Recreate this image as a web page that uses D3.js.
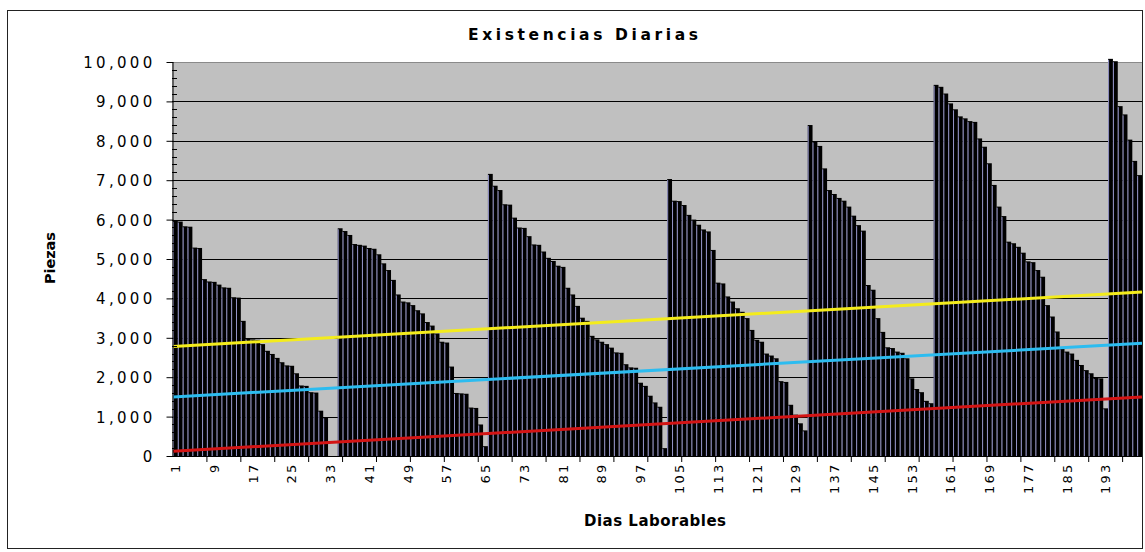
<!DOCTYPE html>
<html>
<head>
<meta charset="utf-8">
<script src="https://cdn.jsdelivr.net/npm/d3@7"></script>
<style>
  html, body { margin: 0; padding: 0; background: #ffffff; }
  svg { display: block; }
  text { font-family: "DejaVu Sans", Verdana, sans-serif; fill: #000; }
</style>
</head>
<body>
<svg id="chart" width="1145" height="552"></svg>
<script>
// Daily stock on hand (pieces), one array per replenishment cycle
const cycle1 = [5970, 5950, 5830, 5820, 5290, 5280, 4490, 4430, 4420, 4350, 4280, 4270,
                4030, 4020, 3430, 2980, 2960, 2950, 2840, 2670, 2590, 2490, 2380, 2300,
                2290, 2100, 1790, 1780, 1620, 1610, 1150, 980, 0, 0];
const cycle2 = [5780, 5710, 5610, 5380, 5360, 5340, 5280, 5260, 5120, 4890, 4720, 4470,
                4100, 3920, 3900, 3830, 3700, 3620, 3400, 3310, 3110, 2900, 2880, 2270,
                1600, 1590, 1580, 1230, 1220, 800, 250];
const cycle3 = [7160, 6860, 6750, 6390, 6380, 6050, 5800, 5790, 5580, 5370, 5360, 5190,
                5030, 4950, 4830, 4800, 4270, 4100, 3810, 3510, 3430, 3050, 2960, 2900,
                2840, 2750, 2630, 2620, 2330, 2250, 2240, 1860, 1780, 1530, 1360, 1250, 200];
const cycle4 = [7030, 6480, 6470, 6370, 6120, 6000, 5870, 5750, 5700, 5230, 4400, 4380,
                4050, 3920, 3750, 3660, 3500, 3200, 2950, 2900, 2600, 2550, 2480, 1900,
                1880, 1300, 1050, 830, 650];
const cycle5 = [8400, 7980, 7870, 7300, 6750, 6650, 6550, 6480, 6330, 6100, 5860, 5720,
                4340, 4220, 3500, 3150, 2760, 2740, 2650, 2620, 2480, 1970, 1700, 1620,
                1400, 1340];
const cycle6 = [9420, 9370, 9200, 8950, 8800, 8620, 8570, 8500, 8480, 8060, 7850, 7430,
                6880, 6330, 6090, 5440, 5400, 5310, 5160, 4940, 4920, 4720, 4550, 3830,
                3540, 3160, 2730, 2650, 2600, 2440, 2310, 2180, 2100, 1980, 1970, 1210];
const cycle7 = [10080, 10020, 8880, 8670, 8030, 7490, 7130];

// Straight trend lines: values at the first and last working day
const trendDays   = [1, 200];
const lowerTrend  = [120, 1500];   // red
const middleTrend = [1500, 2860];  // cyan
const upperTrend  = [2780, 4160];  // yellow

const yTickValues = [0, 1000, 2000, 3000, 4000, 5000, 6000, 7000, 8000, 9000, 10000];

const stock = [].concat(cycle1, cycle2, cycle3, cycle4, cycle5, cycle6, cycle7);
const days = d3.range(1, stock.length + 1);
const xLabelDays = days.filter(d => (d - 1) % 8 === 0);
const xTickDays = days.filter(d => (d - 1) % 7 === 0 && d > 1);

const svg = d3.select("#chart");
const plot = { left: 172, right: 1142, top: 62, bottom: 456 };

const x = d3.scaleBand().domain(days).range([plot.left + 1, plot.right]).paddingInner(0).paddingOuter(0);
const y = d3.scaleLinear().domain([0, 10000]).range([plot.bottom, plot.top]);
const bw = x.bandwidth();

// outer frame
svg.append("rect")
  .attr("x", 7.5).attr("y", 10.5).attr("width", 1135).attr("height", 538)
  .attr("fill", "#fff").attr("stroke", "#222").attr("stroke-width", 1);

// plot background
svg.append("rect")
  .attr("x", plot.left).attr("y", plot.top)
  .attr("width", plot.right - plot.left).attr("height", plot.bottom - plot.top)
  .attr("fill", "#c0c0c0");
svg.append("line")
  .attr("x1", plot.left).attr("x2", plot.right)
  .attr("y1", plot.top + 0.5).attr("y2", plot.top + 0.5)
  .attr("stroke", "#8a8a8a");

// horizontal gridlines
svg.append("g").selectAll("line")
  .data(yTickValues.filter(v => v > 0 && v < 10000))
  .join("line")
  .attr("x1", plot.left).attr("x2", plot.right)
  .attr("y1", d => Math.round(y(d)) + 0.5).attr("y2", d => Math.round(y(d)) + 0.5)
  .attr("stroke", "#000").attr("stroke-width", 1);

// bars
const barData = days.map((d, i) => ({ day: d, value: stock[i] })).filter(d => d.value > 0);
svg.append("g").selectAll("rect")
  .data(barData)
  .join("rect")
  .attr("x", d => x(d.day))
  .attr("width", bw)
  .attr("y", d => y(d.value))
  .attr("height", d => y(0) - y(d.value))
  .attr("fill", "#000");

// light bar edges
svg.append("g").selectAll("line")
  .data(barData)
  .join("line")
  .attr("x1", d => x(d.day) + 0.5).attr("x2", d => x(d.day) + 0.5)
  .attr("y1", d => y(d.value) + 1).attr("y2", y(0))
  .attr("stroke", "#b0b0ee").attr("stroke-width", 0.85);

// trend lines
const trendLine = d3.line()
  .x((p, i) => i === 0 ? x(p.day) : x(p.day) + bw)
  .y(p => y(p.value));
const trends = [
  { values: lowerTrend, color: "#d41414" },
  { values: middleTrend, color: "#2cbcf0" },
  { values: upperTrend, color: "#f4ec1c" }
];
svg.append("g").selectAll("path")
  .data(trends)
  .join("path")
  .attr("d", t => trendLine(trendDays.map((d, i) => ({ day: d, value: t.values[i] }))))
  .attr("fill", "none")
  .attr("stroke", t => t.color)
  .attr("stroke-width", 3);

// y axis
const yAxis = d3.axisLeft(y).tickValues(yTickValues).tickSize(6).tickSizeOuter(0)
  .tickFormat(d3.format(","));
const gy = svg.append("g").attr("transform", `translate(${plot.left + 0.5},0)`).call(yAxis);
gy.select(".domain").attr("stroke", "#000");
gy.selectAll(".tick line").attr("x2", -6).attr("x1", 1).attr("stroke", "#000");
gy.selectAll(".tick text")
  .attr("x", -17)
  .attr("dy", "0.36em")
  .style("font-size", "15px")
  .style("letter-spacing", "3.3px")
  .style("font-family", '"DejaVu Sans", Verdana, sans-serif');

// minor ticks inside the y axis
const minorValues = d3.range(200, 10000, 200).filter(v => v % 1000 !== 0);
svg.append("g").selectAll("line")
  .data(minorValues)
  .join("line")
  .attr("x1", plot.left).attr("x2", plot.left + 5)
  .attr("y1", d => Math.round(y(d)) + 0.5).attr("y2", d => Math.round(y(d)) + 0.5)
  .attr("stroke", "#000");

// x axis
const xAxis = d3.axisBottom(x).tickValues(xLabelDays).tickSize(0).tickSizeOuter(0);
const gx = svg.append("g").attr("transform", `translate(0,${plot.bottom + 0.5})`).call(xAxis);
gx.select(".domain").attr("d", `M${plot.left},0H${plot.right}`).attr("stroke", "#000");
gx.selectAll(".tick text")
  .attr("transform", "rotate(-90)")
  .attr("text-anchor", "end")
  .attr("x", -6)
  .attr("y", 0)
  .attr("dy", "0.36em")
  .style("font-size", "13px")
  .style("letter-spacing", "2.2px")
  .style("font-family", '"DejaVu Sans", Verdana, sans-serif');

// x tick marks at category boundaries
svg.append("g").selectAll("line")
  .data(xTickDays)
  .join("line")
  .attr("x1", d => x(d)).attr("x2", d => x(d))
  .attr("y1", plot.bottom).attr("y2", plot.bottom + 6)
  .attr("stroke", "#000");

// titles
svg.append("text")
  .attr("x", 583).attr("y", 40)
  .attr("text-anchor", "middle")
  .attr("textLength", 230).attr("lengthAdjust", "spacing")
  .style("font-size", "15.5px").style("font-weight", "bold")
  .text("Existencias Diarias");

svg.append("text")
  .attr("x", 655).attr("y", 526)
  .attr("text-anchor", "middle")
  .attr("textLength", 142).attr("lengthAdjust", "spacing")
  .style("font-size", "15px").style("font-weight", "bold")
  .text("Dias Laborables");

svg.append("text")
  .attr("transform", "translate(55,258) rotate(-90)")
  .attr("text-anchor", "middle")
  .attr("textLength", 52).attr("lengthAdjust", "spacing")
  .style("font-size", "14.5px").style("font-weight", "bold")
  .text("Piezas");
</script>
</body>
</html>
